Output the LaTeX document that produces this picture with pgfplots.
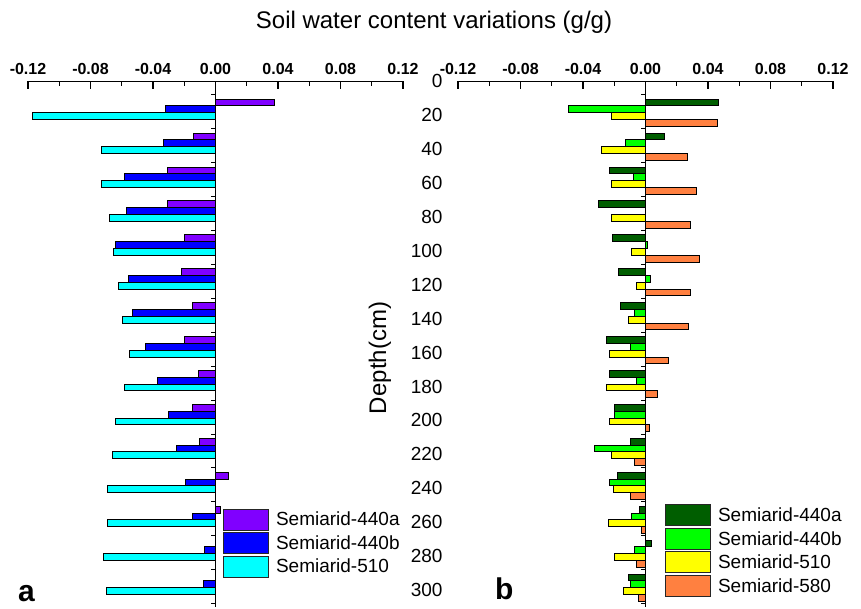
\documentclass[border=0pt]{standalone}
\usepackage{fontspec}
\setmainfont{Liberation Sans}
\usepackage{pgfplots}
\pgfplotsset{compat=1.18}

\definecolor{cpurple}{HTML}{8000FF}
\definecolor{cblue}{HTML}{0000FF}
\definecolor{ccyan}{HTML}{00FFFF}
\definecolor{cdkgreen}{HTML}{005E00}
\definecolor{cgreen}{HTML}{00FF00}
\definecolor{cyellow}{HTML}{FFFF00}
\definecolor{corange}{HTML}{FF8040}

\pgfplotsset{
  panel/.style={
    scale only axis, width=375bp, height=525.8bp,
    xmin=-0.12, xmax=0.12, ymin=0, ymax=310, y dir=reverse,
    axis x line*=top, axis y line*=left,
    y axis line style={draw=none},
    x axis line style={line width=1.3bp},
    xtick={-0.12,-0.08,-0.04,0,0.04,0.08,0.12},
    minor x tick num=1,
    scaled x ticks=false,
    tick align=inside,
    major tick length=8bp, minor tick length=5bp,
    xtick style={line width=1.3bp, black},
    ytick style={draw=none},
    /pgf/number format/assume math mode=true,
    xticklabel style={font=\bfseries\fontsize{16bp}{19bp}\selectfont, yshift=3bp,
      /pgf/number format/.cd, fixed, fixed zerofill, precision=2, assume math mode=true},
    xbar, bar width=4,
    legend cell align=left,
    legend style={draw=none, fill=none, anchor=north west, inner sep=0pt,
      font=\fontsize{19bp}{23bp}\selectfont, row sep=1.5bp,
      /tikz/every odd column/.style={column sep=5bp}},
  },
  sbar/.style={fill=#1, draw=black, line width=1bp,
    legend image code/.code={\draw[fill=#1, draw=black!85, line width=1bp] (0bp,-10.5bp) rectangle (45bp,10.5bp);}},
}

\begin{document}
\begin{tikzpicture}
\useasboundingbox (0,0) rectangle (861bp,-609bp);

% ---------------- panel a ----------------
\begin{axis}[panel, at={(28bp,-607bp)}, anchor=south west,
  ytick=\empty,
  legend style={at={(axis cs:0.0047,252)}}]
\addplot[sbar=cpurple, bar shift=-7.4] coordinates {
 (0.038,20) (-0.014,40) (-0.031,60) (-0.031,80) (-0.020,100) (-0.022,120)
 (-0.015,140) (-0.020,160) (-0.011,180) (-0.015,200) (-0.010,220) (0.008,240)
 (0.003,260)};
\addplot[sbar=cblue, bar shift=-3.4] coordinates {
 (-0.032,20) (-0.033,40) (-0.058,60) (-0.057,80) (-0.064,100) (-0.056,120)
 (-0.053,140) (-0.045,160) (-0.037,180) (-0.030,200) (-0.025,220) (-0.019,240)
 (-0.015,260) (-0.007,280) (-0.008,300)};
\addplot[sbar=ccyan, bar shift=0.6] coordinates {
 (-0.117,20) (-0.073,40) (-0.073,60) (-0.068,80) (-0.065,100) (-0.062,120)
 (-0.0595,140) (-0.055,160) (-0.058,180) (-0.064,200) (-0.066,220) (-0.069,240)
 (-0.069,260) (-0.072,280) (-0.070,300)};
\legend{Semiarid-440a,Semiarid-440b,Semiarid-510}
\draw[line width=1.3bp] (axis cs:0,0) -- (axis cs:0,310);
\pgfplotsinvokeforeach{8,28,48,68,88,108,128,148,168,188,208,228,248,268,288,308}{
  \draw[line width=1bp] (axis cs:0,#1) -- ([xshift=-5bp]axis cs:0,#1);}
\end{axis}

% ---------------- panel b ----------------
\begin{axis}[panel, at={(458bp,-607bp)}, anchor=south west,
  ytick={0,20,...,300},
  yticklabel style={font=\fontsize{19bp}{23bp}\selectfont, xshift=-4bp},
  legend style={at={(axis cs:0.0124,249.4)}}]
\addplot[sbar=cdkgreen, bar shift=-7.4] coordinates {
 (0.047,20) (0.012,40) (-0.023,60) (-0.030,80) (-0.021,100) (-0.017,120)
 (-0.016,140) (-0.025,160) (-0.0228,180) (-0.0198,200) (-0.0098,220) (-0.018,240)
 (-0.0038,260) (0.0038,280) (-0.0108,300)};
\addplot[sbar=cgreen, bar shift=-3.4] coordinates {
 (-0.049,20) (-0.013,40) (-0.0077,60) (0.001,100) (0.003,120)
 (-0.0068,140) (-0.0098,160) (-0.0058,180) (-0.0196,200) (-0.0329,220) (-0.0228,240)
 (-0.0088,260) (-0.0068,280) (-0.0098,300)};
\addplot[sbar=cyellow, bar shift=0.6] coordinates {
 (-0.0218,20) (-0.028,40) (-0.022,60) (-0.022,80) (-0.0088,100) (-0.0058,120)
 (-0.011,140) (-0.0228,160) (-0.0248,180) (-0.0228,200) (-0.0218,220) (-0.0207,240)
 (-0.024,260) (-0.0198,280) (-0.0139,300)};
\addplot[sbar=corange, bar shift=4.6] coordinates {
 (0.0458,20) (0.027,40) (0.0328,60) (0.029,80) (0.0348,100) (0.029,120)
 (0.0277,140) (0.0147,160) (0.0077,180) (0.0028,200) (-0.0068,220) (-0.0098,240)
 (-0.0026,260) (-0.0058,280) (-0.0047,300)};
\legend{Semiarid-440a,Semiarid-440b,Semiarid-510,Semiarid-580}
\draw[line width=1.3bp] (axis cs:0,0) -- (axis cs:0,310);
\pgfplotsinvokeforeach{8,28,48,68,88,108,128,148,168,188,208,228,248,268,288,308}{
  \draw[line width=1bp] (axis cs:0,#1) -- ([xshift=-5bp]axis cs:0,#1);}
\end{axis}

\node[anchor=base, font=\fontsize{24bp}{28bp}\selectfont] at (434bp,-28bp) {Soil water content variations (g/g)};
\node[rotate=90, font=\fontsize{24bp}{28bp}\selectfont] at (380bp,-358bp) {Depth(cm)};
\node[anchor=base west, inner sep=0pt, font=\bfseries\fontsize{30bp}{34bp}\selectfont] at (18bp,-601bp) {a};
\node[anchor=base west, inner sep=0pt, font=\bfseries\fontsize{30bp}{34bp}\selectfont] at (495bp,-599bp) {b};
\end{tikzpicture}
\end{document}
